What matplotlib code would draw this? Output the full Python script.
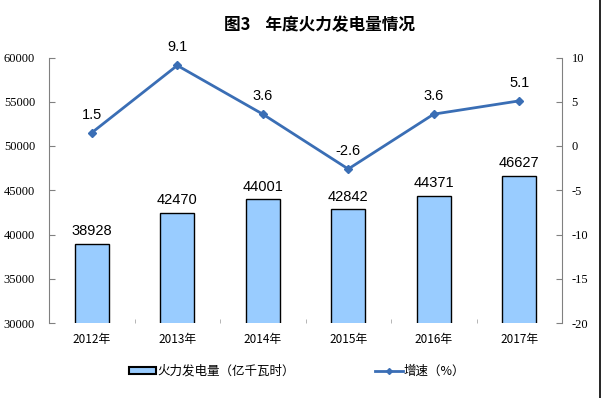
import matplotlib
matplotlib.use("Agg")
import matplotlib.pyplot as plt
from matplotlib.lines import Line2D
from matplotlib.patches import Patch
import numpy as np

plt.rcParams['font.family'] = ['Noto Sans CJK SC', 'DejaVu Sans']
plt.rcParams['axes.unicode_minus'] = False

years = ["2012年", "2013年", "2014年", "2015年", "2016年", "2017年"]
output = [38928, 42470, 44001, 42842, 44371, 46627]   # 亿千瓦时
growth = [1.5, 9.1, 3.6, -2.6, 3.6, 5.1]              # %

bar_color = "#99CCFF"
line_color = "#3A6EB5"
axis_gray = "#808080"

fig = plt.figure(figsize=(6.06, 3.98), dpi=100)
ax = fig.add_axes([49 / 606, 1 - 323 / 398, (562 - 49) / 606, (323 - 57.5) / 398])
ax2 = ax.twinx()

x = np.arange(len(years))
ax.bar(x, output, width=0.4, color=bar_color, edgecolor="black", linewidth=1.0, zorder=2)
for xi, v in zip(x, output):
    ax.annotate(f"{v}", (xi, v), xytext=(0, 4), textcoords="offset points",
                ha="center", va="bottom", fontsize=10.5, family="Liberation Sans")

ax2.plot(x, growth, color=line_color, linewidth=2.0, marker="D", markersize=4, zorder=3)
for xi, v in zip(x, growth):
    ax2.annotate(f"{v}", (xi, v), xytext=(0, 8), textcoords="offset points",
                 ha="center", va="bottom", fontsize=10.5, family="Liberation Sans")

ax.set_xlim(-0.5, len(years) - 0.5)
ax.set_ylim(30000, 60000)
ax.set_yticks(range(30000, 60001, 5000))
ax2.set_ylim(-20, 10)
ax2.set_yticks(range(-20, 11, 5))

ax.set_xticks(x)
ax.set_xticklabels(years, fontsize=8.5)
ax.set_xticks(np.arange(0.5, len(years) - 1, 1), minor=True)
ax.tick_params(axis="x", which="major", length=0, pad=7)
ax.tick_params(axis="x", which="minor", length=3, color="#aaaaaa", direction="in")

for lab in ax.get_yticklabels():
    lab.set_family("Liberation Serif")
for lab in ax2.get_yticklabels():
    lab.set_family("Liberation Serif")
ax.tick_params(axis="y", direction="in", length=4, color=axis_gray, labelsize=9, pad=10)
ax2.tick_params(axis="y", direction="in", length=4, color=axis_gray, labelsize=9, pad=7)

for a in (ax, ax2):
    a.spines["top"].set_visible(False)
    a.spines["bottom"].set_visible(False)
    a.spines["left"].set_color(axis_gray)
    a.spines["right"].set_color(axis_gray)
ax.spines["right"].set_visible(False)
ax2.spines["left"].set_visible(False)

fig.text(320 / 606, 1 - 25 / 398, "图3    年度火力发电量情况", ha="center", va="center",
         fontsize=12, fontweight="bold")

handles = [
    Patch(facecolor=bar_color, edgecolor="black", linewidth=1.5),
    Line2D([0], [0], color=line_color, linewidth=2.0, marker="D", markersize=3),
]
fig.legend(handles, ["火力发电量（亿千瓦时）", "增速（%）"], loc="center",
           bbox_to_anchor=(297 / 606, 1 - 371 / 398), ncol=2, frameon=False,
           fontsize=9, handlelength=2.2, handletextpad=0.1, columnspacing=6.4,
           handleheight=0.5)

fig.add_artist(Line2D([599.5 / 606, 599.5 / 606], [0, 1], transform=fig.transFigure,
                      color="black", linewidth=1.2))

fig.savefig("out.png", dpi=100)
